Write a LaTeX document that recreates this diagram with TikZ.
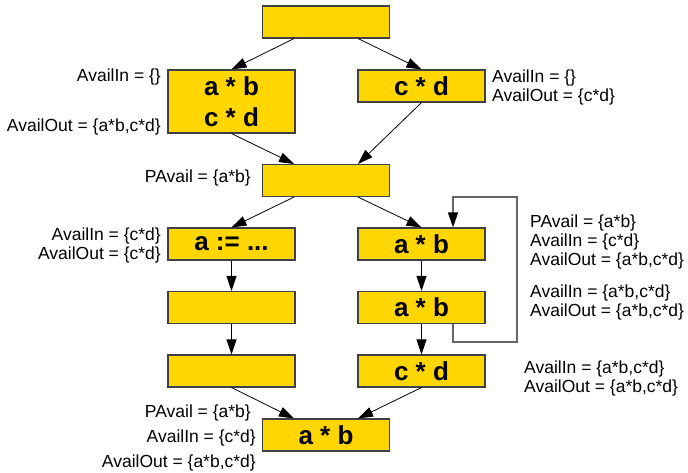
\documentclass[tikz,border=0pt]{standalone}
\usepackage{fontspec}
\setmainfont{Liberation Sans}
\usetikzlibrary{arrows.meta}
\definecolor{gold}{RGB}{255,214,0}

\begin{document}
\begin{tikzpicture}[x=1pt,y=-1pt,
  blk/.style={draw=black!75,line width=1.1pt,fill=gold,inner sep=0pt,
    minimum width=127pt,minimum height=32pt,
    font=\fontsize{26}{31}\selectfont\bfseries},
  lbl/.style={inner sep=0pt,font=\fontsize{17.5}{19}\selectfont},
  flow/.style={-{Triangle[length=15pt,width=10pt]},line width=0.8pt},
  backflow/.style={draw=black!60,line width=1.3pt,
    -{Triangle[length=15pt,width=10pt,color=black]}}]
  \useasboundingbox (0,0) rectangle (688,472);

  % blocks
  \node[blk] (entry) at (326,22) {};
  \node[blk,minimum height=63pt,align=center] (abcd) at (231.5,101.5) {a * b\\c * d};
  \node[blk] (cd) at (421.5,86) {c * d};
  \node[blk] (join) at (326,180.5) {};
  \node[blk] (assign) at (231.5,244) {a := ...};
  \node[blk] (emptyA) at (231.5,307.5) {};
  \node[blk] (emptyB) at (231.5,371) {};
  \node[blk] (abA) at (421.5,244) {a * b};
  \node[blk] (abB) at (421.5,307.5) {a * b};
  \node[blk] (cdB) at (421.5,371) {c * d};
  \node[blk] (exit) at (326,435) {a * b};

  % edges
  \draw[flow] ([xshift=-32pt]entry.south) -- (abcd.north);
  \draw[flow] ([xshift=32pt]entry.south) -- (cd.north);
  \draw[flow] (abcd.south) -- ([xshift=-32pt]join.north);
  \draw[flow] (cd.south) -- ([xshift=32pt]join.north);
  \draw[flow] ([xshift=-32pt]join.south) -- (assign.north);
  \draw[flow] ([xshift=32pt]join.south) -- (abA.north);
  \draw[flow] (assign) -- (emptyA);
  \draw[flow] (emptyA) -- (emptyB);
  \draw[flow] (abA) -- (abB);
  \draw[flow] (abB) -- (cdB);
  \draw[flow] (emptyB.south) -- ([xshift=-32pt]exit.north);
  \draw[flow] (cdB.south) -- ([xshift=32pt]exit.north);
  % loop back
  \coordinate (loopB) at (517,342);
  \coordinate (loopT) at (453,197);
  \draw[backflow] ([xshift=31.5pt]abB.south) |- (loopB) |- (loopT) -- ([xshift=31.5pt]abA.north);

  % data flow facts
  \node[lbl,anchor=east] (inA) at (161,77) {AvailIn = \{\}};
  \node[lbl,anchor=east] (outA) at (161,127) {AvailOut = \{a*b,c*d\}};
  \node[lbl,anchor=west,align=left] (factsCd) at (492,87) {AvailIn = \{\}\\AvailOut = \{c*d\}};
  \node[lbl,anchor=east] (pJoin) at (251,178) {PAvail = \{a*b\}};
  \node[lbl,anchor=east,align=right] (factsAs) at (161,245) {AvailIn = \{c*d\}\\AvailOut = \{c*d\}};
  \node[lbl,anchor=west,align=left] (factsAbA) at (530,242) {PAvail = \{a*b\}\\AvailIn = \{c*d\}\\AvailOut = \{a*b,c*d\}};
  \node[lbl,anchor=west,align=left] (factsAbB) at (530,302) {AvailIn = \{a*b,c*d\}\\AvailOut = \{a*b,c*d\}};
  \node[lbl,anchor=west,align=left] (factsCdB) at (524,378.5) {AvailIn = \{a*b,c*d\}\\AvailOut = \{a*b,c*d\}};
  \node[lbl,anchor=east] (pExit) at (251,413) {PAvail = \{a*b\}};
  \node[lbl,anchor=east] (inExit) at (256,438) {AvailIn = \{c*d\}};
  \node[lbl,anchor=east] (outExit) at (256,463) {AvailOut = \{a*b,c*d\}};
\end{tikzpicture}
\end{document}
